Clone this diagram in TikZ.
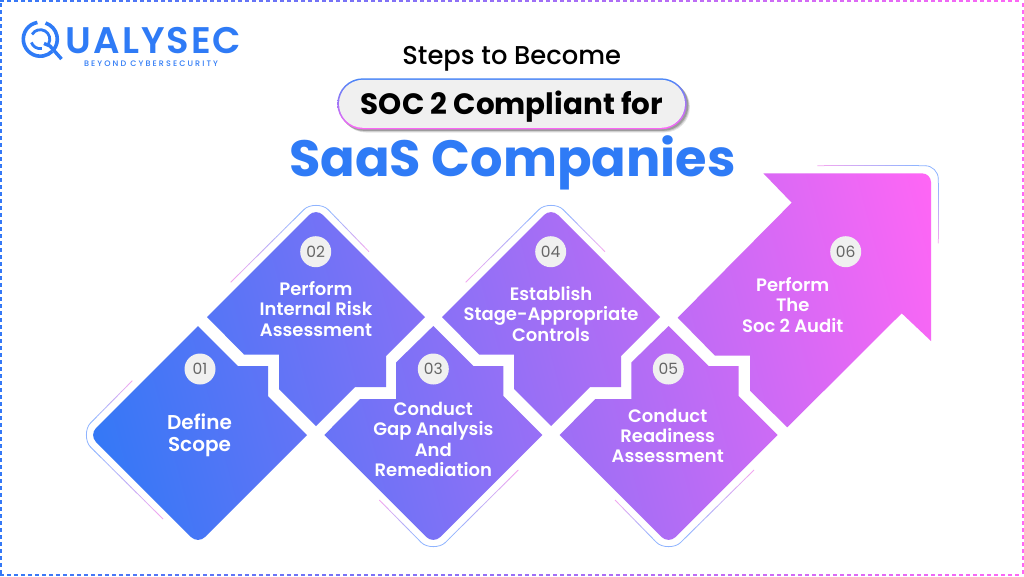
\documentclass[tikz,border=0pt]{standalone}
\usepackage{fontspec}
\setmainfont{Poppins}
\newfontfamily\pmed{Poppins Medium}
\newfontfamily\psemi{Poppins SemiBold}
\newfontfamily\pbold{Poppins}[UprightFont=* Bold]
\newfontfamily\ptag{Poppins Medium}[LetterSpace=26]
\newfontfamily\plogo{Poppins SemiBold}[LetterSpace=5.5]
\definecolor{gblue}{HTML}{3478F6}
\definecolor{gpink}{HTML}{FF66F5}
\definecolor{lblue}{HTML}{8FB4FF}
\definecolor{lpink}{HTML}{F2A6F0}
\definecolor{logoblue}{HTML}{2F7BF6}
\definecolor{chip}{HTML}{F0F0F0}
\definecolor{chiptext}{HTML}{666666}
% arm from A to B, colour fading from end colour to corner colour
\newcommand{\fadearm}[2]{%
  \foreach \k in {0,...,15}{%
    \pgfmathsetmacro{\fa}{\k/16}\pgfmathsetmacro{\fb}{(\k+1)/16+0.004}%
    \pgfmathsetmacro{\pc}{min(100,\k*7)}%
    \draw[line width=.8pt,draw=lblue!\pc!lpink] ($(#1)!\fa!(#2)$) -- ($(#1)!\fb!(#2)$);
  }}
\usetikzlibrary{calc}
\tikzset{
  steptext/.style={text=white,font=\psemi\fontsize{18}{20.2}\selectfont,align=center,inner sep=0pt},
  chipnode/.style={circle,fill=chip,minimum size=31pt,inner sep=0pt,text=chiptext,font=\fontsize{15.5}{18}\selectfont},
  corner/.style={line width=.8pt,draw=lblue}
}
\newcommand{\shapeA}{(96,428) .. controls (92.15,431.85) and (92.15,438.15) .. (96,442) -- (191,537) .. controls (194.85,540.85) and (201.15,540.85) .. (205,537)
  -- (307,435) -- (268,396) -- (268,366) -- (238,366) -- (198,326) -- cycle}
\newcommand{\shapeB}{(207,317) -- (309,215) .. controls (312.85,211.15) and (319.15,211.15) .. (323,215) -- (425,317) -- (386,356) -- (386,387) -- (355,387)
  -- (316,426) -- (279,389) -- (279,354.5) -- (244,354.5) -- cycle}
\newcommand{\shapeC}{(324.3,435) -- (360,399) -- (396,399) -- (396,362.5) -- (433.3,326) -- (473.3,366) -- (503.3,366) -- (503.3,396)
  -- (542.3,435) -- (440.3,537) .. controls (436.45,540.85) and (430.15,540.85) .. (426.3,537) -- cycle}
\newcommand{\shapeD}{(442,317) -- (544,215) .. controls (547.85,211.15) and (554.15,211.15) .. (558,215) -- (660,317) -- (621,356) -- (621,387) -- (590,387)
  -- (551,426) -- (514,389) -- (514,354.5) -- (479,354.5) -- cycle}
\newcommand{\shapeE}{(559.6,435) -- (595.3,399) -- (631.3,399) -- (631.3,362.5) -- (668.6,326) -- (708.6,366) -- (738.6,366) -- (738.6,396)
  -- (777.6,435) -- (675.6,537) .. controls (671.75,540.85) and (665.45,540.85) .. (661.6,537) -- cycle}
\newcommand{\shapeF}{(677.7,317.7) -- (791.7,202.7) -- (763.3,173.3) -- (922,173.3) .. controls (927,173.3) and (931,177.3) .. (931,182.3)
  -- (931,341) -- (901.7,313.3) -- (787.3,427.3) -- (750,390.7) -- (750,355.7) -- (715,355.7) -- cycle}
\begin{document}
\begin{tikzpicture}[x=1pt,y=-1pt]
\useasboundingbox (0,0) rectangle (1024,576);
\fill[white] (0,0) rectangle (1024,576);
% dashed frame
\foreach \q in {0,7,...,1021}{
  \pgfmathsetmacro{\pc}{\q/10.24}
  \fill[gpink!\pc!gblue] (\q,0) rectangle ++(4.3,2);
  \fill[gpink!\pc!gblue] (\q,574) rectangle ++(4.3,2);
}
\foreach \q in {3,10,...,574}{
  \fill[gblue] (0,\q) rectangle ++(2.2,4.2);
  \fill[gpink] (1021.8,\q) rectangle ++(2.2,4.2);
}
% logo
\begin{scope}[logoblue,line width=3.6pt]
  \coordinate (qc) at (40.3,39.2);
  \draw ($(qc)+(100:17pt)$) arc[start angle=100,end angle=315,radius=17pt];
  \draw ($(qc)+(72:17pt)$) arc[start angle=72,end angle=-38,radius=17pt];
  \draw[line width=2.8pt] ($(qc)+(150:9.5pt)$) arc[start angle=150,end angle=-30,radius=9.5pt];
  \draw[line width=2.8pt] ($(qc)+(200:9.5pt)$) arc[start angle=200,end angle=280,radius=9.5pt];
  \draw[line width=3.4pt] (44,43.5) -- (50,46) -- (61.5,59);
\end{scope}
\node[anchor=base west,inner sep=0pt,text height=26pt,text depth=0pt,text=logoblue,font=\plogo\fontsize{37}{37}\selectfont] (logo) at (65.5,53.3) {UALYSEC};
\node[anchor=base,inner sep=0pt,text height=5pt,text depth=0pt,text=logoblue,font=\ptag\fontsize{8}{9}\selectfont] (tag) at (151,66.5) {BEYOND CYBERSECURITY};
% titles
\node[inner sep=0pt,font=\pmed\fontsize{25.8}{28}\selectfont] (t1) at (511.7,59) {Steps to Become};
\foreach \o/\a in {3.2/.10,2.4/.14,1.6/.2}
  \fill[black,opacity=\a,rounded corners=25.5pt] (337.3+\o,78.3+\o) rectangle (686.7+\o,129.3+\o);
\shade[top color=gblue!90!white,bottom color=gpink,rounded corners=25.5pt] (337.3,78.3) rectangle (686.7,129.3);
\fill[chip,rounded corners=24pt] (339,79.8) rectangle (685,127.8);
\node[inner sep=0pt,font=\pbold\fontsize{29.4}{34}\selectfont] (t2) at (512,106.5) {SOC 2 Compliant for};
\node[inner sep=0pt,text=logoblue,font=\pbold\fontsize{51}{60}\selectfont] (t3) at (512.5,163) {SaaS Companies};
% decorative corner lines
\fadearm{132.3,380.7}{90.5,423}
\fadearm{163,519}{90.5,447}
\draw[corner] (90.5,423) .. controls (85,428.4) and (85,441.6) .. (90.5,447);
\fadearm{230.7,282.3}{304,209.5}
\fadearm{369,251.7}{328,209.5}
\draw[corner] (304,209.5) .. controls (309.4,204) and (322.6,204) .. (328,209.5);
\fadearm{379.3,500}{421.3,542.5}
\fadearm{518.3,470}{445.3,542.5}
\draw[corner] (421.3,542.5) .. controls (426.7,548) and (439.9,548) .. (445.3,542.5);
\fadearm{465.7,282.3}{539,209.5}
\fadearm{605,251.7}{563,209.5}
\draw[corner] (539,209.5) .. controls (544.4,204) and (557.6,204) .. (563,209.5);
\fadearm{615,500}{656.6,542.5}
\fadearm{754,470}{680.6,542.5}
\draw[corner] (656.6,542.5) .. controls (662,548) and (675.2,548) .. (680.6,542.5);
\fadearm{817.3,165.7}{925,165.7}
\fadearm{938.3,243.3}{938.3,179}
\draw[corner] (925,165.7) .. controls (932.3,165.7) and (938.3,171.7) .. (938.3,179);
% gradient step shapes
\begin{scope}
  \clip \shapeA \shapeB \shapeC \shapeD \shapeE \shapeF;
  \begin{scope}[transform canvas={rotate around={15:(511,357)}}]
    \shade[left color=gblue,right color=gpink] (86,-300) rectangle (964,900);
  \end{scope}
\end{scope}
% chips
\node[chipnode] (n1) at (200,369) {01};
\node[chipnode] (n2) at (315.7,251.7) {02};
\node[chipnode] (n3) at (433.3,369) {03};
\node[chipnode] (n4) at (550.7,251.7) {04};
\node[chipnode] (n5) at (668.3,369) {05};
\node[chipnode] (n6) at (845.7,251.7) {06};
% labels
\node[steptext,font=\psemi\fontsize{20}{22.3}\selectfont] (s1) at (199.5,435) {Define\\Scope};
\node[steptext] (s2) at (316,309) {Perform\\Internal Risk\\Assessment};
\node[steptext] (s3) at (433.3,439.5) {Conduct\\Gap Analysis\\And\\Remediation};
\node[steptext] (s4) at (551,314) {Establish\\Stage-Appropriate\\Controls};
\node[steptext] (s5) at (667.7,436) {Conduct\\Readiness\\Assessment};
\node[steptext] (s6) at (792.7,305) {Perform\\The\\Soc 2 Audit};
\end{tikzpicture}
\end{document}
